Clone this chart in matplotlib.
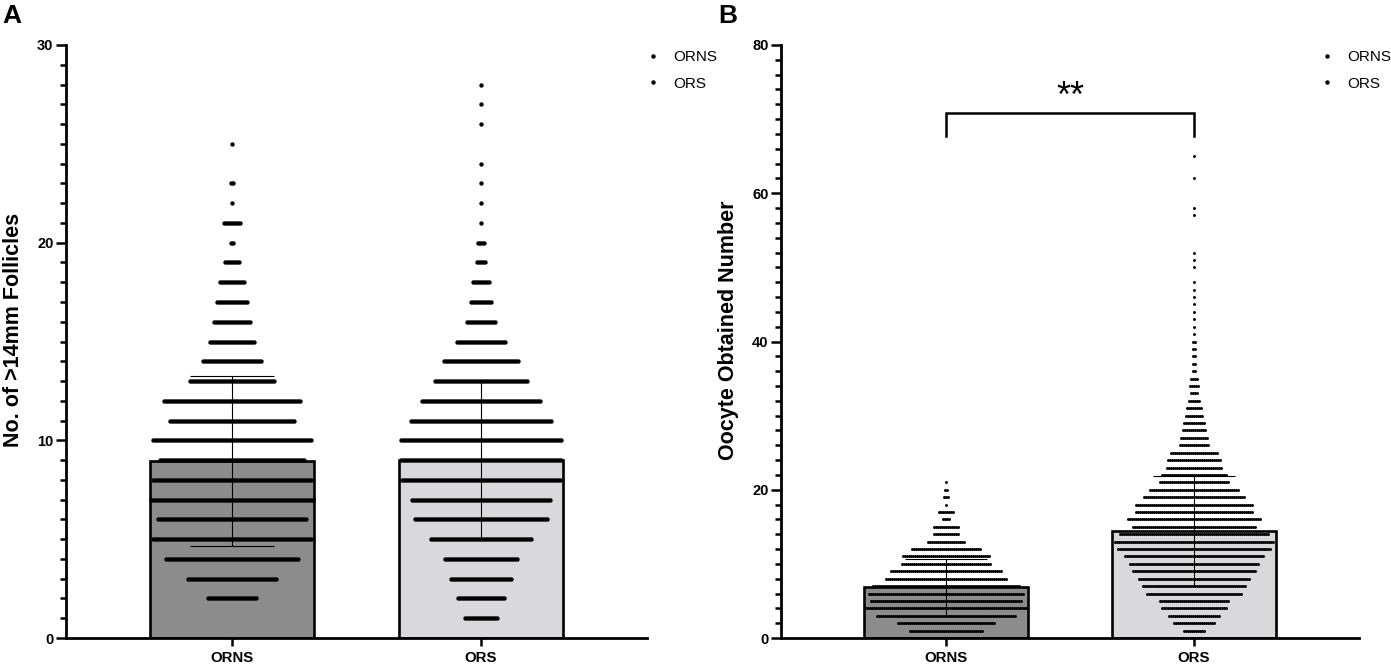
import matplotlib
matplotlib.use("Agg")
import matplotlib.pyplot as plt
import numpy as np
from matplotlib.lines import Line2D
from matplotlib.ticker import MultipleLocator

plt.rcParams['font.family'] = ['Liberation Sans', 'DejaVu Sans']

groups = ['ORNS', 'ORS']
bar_colors = ['#8c8c8c', '#d9d9db']

# panel A - No. of >14mm follicles: value -> number of patients (row widths)
fol_vals = list(range(1, 29))
fol_orns = [0, 25, 45, 67, 80, 75, 82, 80, 73, 80, 63, 69, 43, 30, 23, 19, 16, 13, 8, 2,
            9, 1, 2, 0, 1, 0, 0, 0]
fol_ors = [17, 24, 31, 37, 51, 67, 70, 80, 81, 81, 71, 60, 47, 38, 25, 15, 11, 9, 5, 4,
           1, 1, 1, 1, 0, 1, 1, 1]
fol_mean = [8.95, 9.02]
fol_sd = [4.28, 4.0]

# panel B - oocytes obtained
ooc_vals_orns = list(range(1, 22))
ooc_orns = [37, 49, 70, 81, 76, 78, 74, 61, 56, 45, 44, 35, 19, 13, 13, 4, 8, 1, 3, 2, 1]
ooc_vals_ors = list(range(1, 49)) + [50, 51, 52, 57, 58, 62, 65]
ooc_ors = [11, 21, 26, 33, 35, 48, 52, 56, 62, 65, 70, 77, 80, 75, 62, 67, 59, 59, 51, 45,
           35, 33, 28, 27, 24, 15, 14, 12, 11, 9, 8, 6, 4, 5, 4, 2, 2, 2, 2, 2,
           1, 1, 1, 1, 1, 1, 1, 1, 1, 1, 1, 1, 1, 1, 1]
ooc_mean = [6.87, 14.4]
ooc_sd = [3.85, 7.45]
sig_text = '**'

W, H = 1391, 667


def dot_rows(ax, xc, vals, counts, pitch, size):
    xs, ys = [], []
    for v, n in zip(vals, counts):
        off = (np.arange(n) - (n - 1) / 2.0) * pitch
        xs.extend(xc + off)
        ys.extend([v] * n)
    ax.scatter(xs, ys, s=size, c='black', linewidths=0, zorder=4)


def style(ax, ymax, major, minor, ylabel, legend_x):
    for sp in ['top', 'right']:
        ax.spines[sp].set_visible(False)
    for sp in ['left', 'bottom']:
        ax.spines[sp].set_linewidth(2.0)
    ax.set_xlim(-0.667, 1.667)
    ax.set_ylim(0, ymax)
    ax.yaxis.set_major_locator(MultipleLocator(major))
    ax.yaxis.set_minor_locator(MultipleLocator(minor))
    ax.tick_params(axis='y', which='major', length=7, width=1.8, labelsize=10.5, pad=2)
    ax.tick_params(axis='y', which='minor', length=4.5, width=1.8)
    ax.tick_params(axis='x', length=5.5, width=1.8, labelsize=10.8, pad=4)
    ax.set_xticks([0, 1])
    ax.set_xticklabels(groups)
    for lab in ax.get_xticklabels() + ax.get_yticklabels():
        lab.set_fontweight('bold')
    ax.set_ylabel(ylabel, fontsize=15.5, fontweight='bold')
    ax.yaxis.set_label_coords(-0.0725, 0.519)
    handles = [Line2D([], [], ls='none', marker='o', ms=2.2, color='black') for g in groups]
    ax.legend(handles, groups, loc='upper left', bbox_to_anchor=(legend_x / W, 1 - 44.3 / H),
              bbox_transform=fig.transFigure, frameon=False,
              fontsize=11, handlelength=1.2, handletextpad=0.7, labelspacing=0.81,
              borderaxespad=0)


fig = plt.figure(figsize=(W / 100, H / 100), dpi=100)
axA = fig.add_axes([66 / W, 29 / H, 581 / W, 593 / H])
axB = fig.add_axes([781 / W, 29 / H, 578 / W, 593 / H])

x = np.arange(len(groups))

# panel A
axA.bar(x, fol_mean, width=0.66, color=bar_colors, edgecolor='black', linewidth=1.9, zorder=1)
axA.errorbar(x, fol_mean, yerr=fol_sd, fmt='none', ecolor='black', elinewidth=0.8,
             capsize=30, capthick=0.8, zorder=3)
dot_rows(axA, 0, fol_vals, fol_orns, 2 / 249, 10)
dot_rows(axA, 1, fol_vals, fol_ors, 2 / 249, 10)
style(axA, 30, 10, 1, 'No. of >14mm Follicles', 637.8)

# panel B
axB.bar(x, ooc_mean, width=0.66, color=bar_colors, edgecolor='black', linewidth=1.9, zorder=1)
axB.errorbar(x, ooc_mean, yerr=ooc_sd, fmt='none', ecolor='black', elinewidth=0.8,
             capsize=29.5, capthick=0.8, zorder=3)
dot_rows(axB, 0, ooc_vals_orns, ooc_orns, 2 / 247, 4.5)
dot_rows(axB, 1, ooc_vals_ors, ooc_ors, 2 / 247, 4.5)
style(axB, 80, 20, 2, 'Oocyte Obtained Number', 1311.8)
axB.plot([0, 0, 1, 1], [67.7, 70.8, 70.8, 67.7], color='black', lw=1.8, zorder=5,
         solid_joinstyle='miter')
axB.text(0.5, 70.6, sig_text, ha='center', va='bottom', fontsize=26)

fig.text(2 / W, 1 - 4 / H, 'A', fontsize=19, fontweight='bold', ha='left', va='top')
fig.text(718 / W, 1 - 4 / H, 'B', fontsize=19, fontweight='bold', ha='left', va='top')

fig.savefig('out.png', dpi=100)
